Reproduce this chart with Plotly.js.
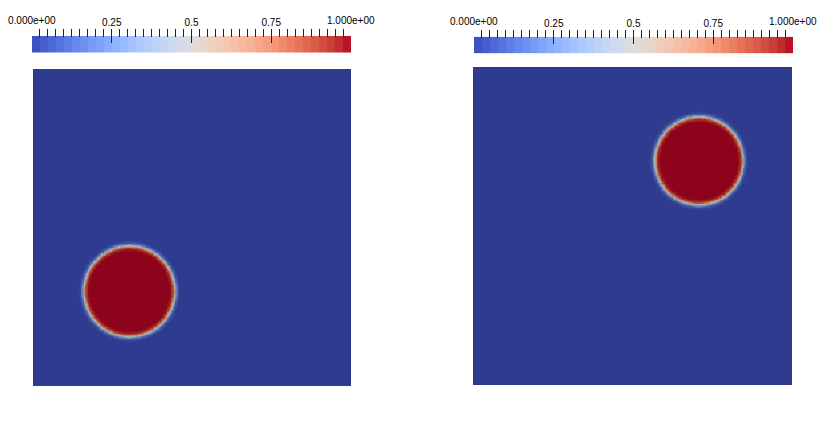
<!DOCTYPE html>
<html>
<head>
<meta charset="utf-8">
<script src="https://cdn.plot.ly/plotly-3.0.1.min.js"></script>
<style>html,body{margin:0;padding:0;background:#fff;}#chart{width:838px;height:441px;}</style>
</head>
<body>
<div id="chart"></div>
<script>
// ---- data ----
// circle (blob) centres and mid-interface radii, in the [0,1] x [0,1] domain
const blobCenterX = [0.302, 0.707];
const blobCenterY = [0.300, 0.706];
const blobRadius  = [0.145, 0.140];
// radial profile across the interface: offset from radius -> field value
const profileOffset = [-0.018, -0.015, -0.012, -0.009, -0.006, -0.003, 0.000, 0.003, 0.006, 0.009, 0.012, 0.015, 0.018];
const profileValue  = [1.00, 0.99, 0.97, 0.93, 0.85, 0.70, 0.50, 0.30, 0.16, 0.08, 0.04, 0.015, 0.00];
// colour bar
const barLevels = [0.0125,0.0375,0.0625,0.0875,0.1125,0.1375,0.1625,0.1875,0.2125,0.2375,
                   0.2625,0.2875,0.3125,0.3375,0.3625,0.3875,0.4125,0.4375,0.4625,0.4875,
                   0.5125,0.5375,0.5625,0.5875,0.6125,0.6375,0.6625,0.6875,0.7125,0.7375,
                   0.7625,0.7875,0.8125,0.8375,0.8625,0.8875,0.9125,0.9375,0.9625,0.9875];
const majorTickVals = [0.25, 0.5, 0.75];
const majorTickText = ['0.25', '0.5', '0.75'];
const endLabels = ['0.000e+00', '1.000e+00'];
const endLabelPos = [0, 1];

// ---- ParaView "Cool to Warm" colour map ----
const coolWarm = [
 [0.0,[59,76,192]],[0.03125,[68,90,204]],[0.0625,[77,104,215]],[0.09375,[87,117,225]],
 [0.125,[98,130,234]],[0.15625,[108,142,241]],[0.1875,[119,154,247]],[0.21875,[130,165,251]],
 [0.25,[141,176,254]],[0.28125,[152,185,255]],[0.3125,[163,194,255]],[0.34375,[174,201,253]],
 [0.375,[184,208,249]],[0.40625,[194,213,244]],[0.4375,[204,217,238]],[0.46875,[213,219,230]],
 [0.5,[221,221,221]],[0.53125,[229,216,209]],[0.5625,[236,211,197]],[0.59375,[241,204,185]],
 [0.625,[245,196,173]],[0.65625,[247,187,160]],[0.6875,[247,177,148]],[0.71875,[247,166,135]],
 [0.75,[244,154,123]],[0.78125,[241,141,111]],[0.8125,[236,127,99]],[0.84375,[229,112,88]],
 [0.875,[222,96,77]],[0.90625,[213,80,66]],[0.9375,[203,62,56]],[0.96875,[192,40,47]],
 [1.0,[180,4,38]]
];
function scale(f){
  return coolWarm.map(([p,c]) => [p, 'rgb(' + c.map((v,i)=>Math.round(v*f[i])).join(',') + ')']);
}
const barScale = scale([1,1,1]);
const fieldScale = scale([0.79,0.78,0.74]);

// ---- field on the grid ----
const N = 240;
const gridPos = [];
for (let i = 0; i < N; i++) gridPos.push((i + 0.5) / N);
function blobField(k){
  const z = [];
  for (let j = 0; j < N; j++){
    const row = [];
    for (let i = 0; i < N; i++){
      const d = Math.hypot(gridPos[i]-blobCenterX[k], gridPos[j]-blobCenterY[k]) - blobRadius[k];
      let v = 0;
      for (let m = 0; m < profileOffset.length; m++){
        if (profileOffset[m] >= d){ v = profileValue[m]; break; }
      }
      row.push(v);
    }
    z.push(row);
  }
  return z;
}

const traces = [
  {type:'heatmap', x:gridPos, y:gridPos, z:blobField(0), xaxis:'x', yaxis:'y',
   zmin:0, zmax:1, colorscale:fieldScale, showscale:false, zsmooth:'best', hoverinfo:'skip'},
  {type:'heatmap', x:gridPos, y:gridPos, z:blobField(1), xaxis:'x2', yaxis:'y2',
   zmin:0, zmax:1, colorscale:fieldScale, showscale:false, zsmooth:'best', hoverinfo:'skip'},
  {type:'heatmap', x:barLevels, y:[0], z:[barLevels], xaxis:'x3', yaxis:'y3',
   zmin:0, zmax:1, colorscale:barScale, showscale:false, hoverinfo:'skip'},
  {type:'heatmap', x:barLevels, y:[0], z:[barLevels], xaxis:'x4', yaxis:'y4',
   zmin:0, zmax:1, colorscale:barScale, showscale:false, hoverinfo:'skip'}
];

const W = 838, H = 441;
const hidden = {showgrid:false, zeroline:false, showticklabels:false, ticks:'', showline:false, fixedrange:true};
function px(a,b){ return [a/W, b/W]; }
function py(top,bottom){ return [(H-bottom)/H, (H-top)/H]; }
const tickFont = {family:'Liberation Sans, Arial, sans-serif', size:10, color:'#000'};
function barAxis(dom, posTop){
  return {domain:dom, range:[0,1], side:'top', anchor:'free', position:(H-posTop)/H,
    showgrid:false, zeroline:false, showline:false, fixedrange:true,
    tickmode:'array', tickvals:majorTickVals, ticktext:majorTickText,
    ticks:'inside', ticklen:14, tickwidth:1, tickcolor:'#222',
    tickfont:tickFont,
    minor:{tickmode:'linear', tick0:0, dtick:0.025, ticks:'inside', ticklen:8, tickwidth:1, tickcolor:'#222', showgrid:false}};
}

const layout = {
  width:W, height:H, margin:{l:0,r:0,t:0,b:0},
  paper_bgcolor:'#fff', plot_bgcolor:'#fff', showlegend:false,
  xaxis:Object.assign({domain:px(33,351), range:[0,1], anchor:'y'}, hidden),
  yaxis:Object.assign({domain:py(69,386), range:[0,1], anchor:'x'}, hidden),
  xaxis2:Object.assign({domain:px(473,792), range:[0,1], anchor:'y2'}, hidden),
  yaxis2:Object.assign({domain:py(67,385), range:[0,1], anchor:'x2'}, hidden),
  xaxis3:barAxis(px(32,351), 28),
  yaxis3:Object.assign({domain:py(36,52.5), range:[-0.5,0.5], anchor:'x3'}, hidden),
  xaxis4:barAxis(px(474,793), 29),
  yaxis4:Object.assign({domain:py(36.7,53.3), range:[-0.5,0.5], anchor:'x4'}, hidden),
  annotations:[]
};
[['x3',20.5],['x4',21]].forEach(([ax,yc]) => {
  endLabels.forEach((t,i) => layout.annotations.push({
    text:t, x:endLabelPos[i], xref:ax, y:(H-yc)/H, yref:'paper',
    xanchor:'center', yanchor:'middle', showarrow:false, font:tickFont
  }));
});

Plotly.newPlot('chart', traces, layout, {displayModeBar:false, staticPlot:true});
</script>
</body>
</html>
